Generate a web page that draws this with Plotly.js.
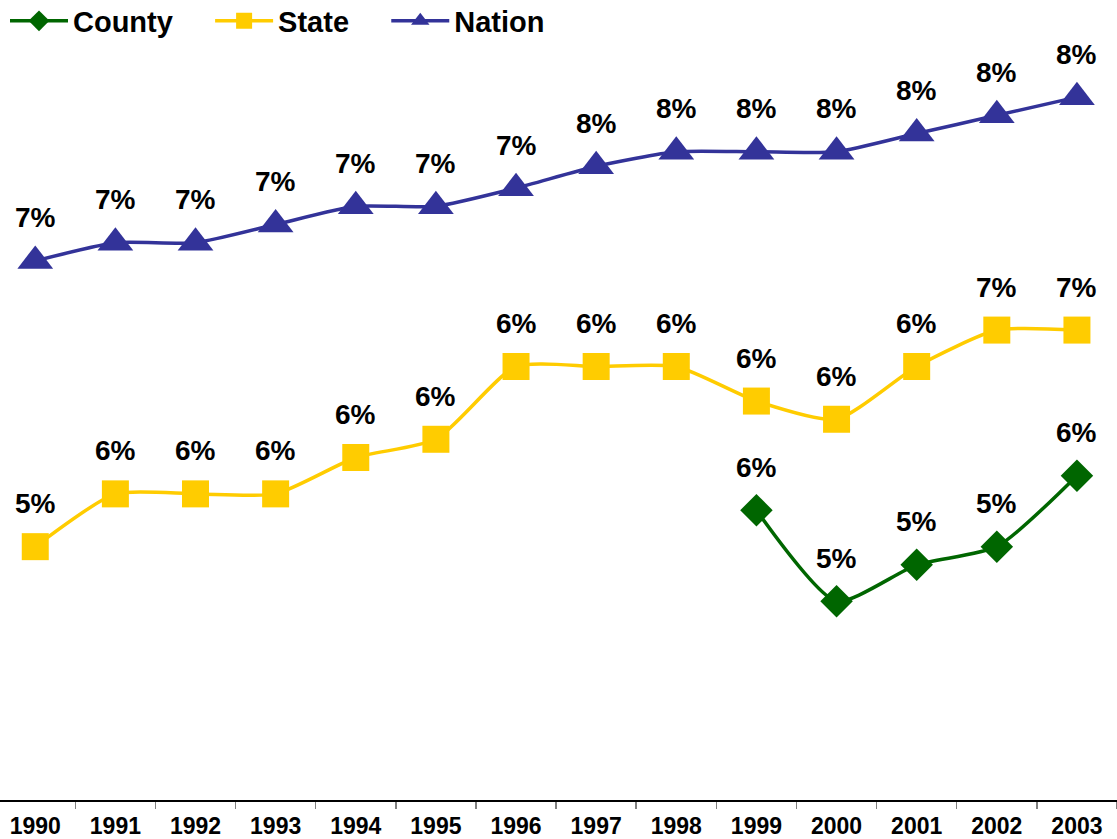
<!DOCTYPE html>
<html>
<head>
<meta charset="utf-8">
<script src="https://cdn.plot.ly/plotly-3.0.1.min.js"></script>
<style>html,body{margin:0;padding:0;background:#fff;}#chart{width:1117px;height:839px;}</style>
</head>
<body>
<div id="chart"></div>
<script>
var years = ['1990','1991','1992','1993','1994','1995','1996','1997','1998','1999','2000','2001','2002','2003'];
var county = [null,null,null,null,null,null,null,null,null,5.63,5.13,5.33,5.43,5.82];
var state = [5.43,5.72,5.72,5.72,5.92,6.02,6.42,6.42,6.42,6.23,6.13,6.42,6.62,6.62];
var nation = [7.0,7.1,7.1,7.2,7.3,7.3,7.4,7.52,7.6,7.6,7.6,7.7,7.8,7.9];
var seriesNames = ['County','State','Nation'];

var FONT = 'Arial, "Liberation Sans", sans-serif';
var PAD = '\u00A0\u00A0\u00A0\u00A0';

function mk(name, vals, color, symbol, size) {
  return {
    type: 'scatter', mode: 'lines+markers', name: name,
    x: years, y: vals,
    line: {color: color, width: 3.5, shape: 'spline', smoothing: 0.6},
    marker: {color: color, symbol: symbol, size: size},
    connectgaps: false,
    hoverinfo: 'skip'
  };
}
var traces = [
  mk(seriesNames[0] + PAD, county, '#006600', 'diamond', 25),
  mk(seriesNames[1] + PAD, state, '#FFCC00', 'square', 27),
  mk(seriesNames[2], nation, '#333399', 'triangle-up', 31)
];

var annotations = [];
[county, state, nation].forEach(function(series){
  series.forEach(function(v, i){
    if (v === null) return;
    annotations.push({
      x: i, y: v, xref: 'x', yref: 'y',
      text: Math.round(v) + '%', showarrow: false,
      yanchor: 'middle', yshift: 43,
      font: {family: FONT, size: 28, color: '#000', weight: 'bold'}
    });
  });
});

var layout = {
  width: 1117, height: 839,
  margin: {l: 0, r: 0, t: 60, b: 39},
  paper_bgcolor: '#fff', plot_bgcolor: '#fff',
  showlegend: true,
  legend: {
    orientation: 'h', x: 5/1117, xanchor: 'left', y: 1 - 21/839, yref: 'container', yanchor: 'middle',
    font: {family: FONT, size: 29, color: '#000', weight: 'bold'},
    itemwidth: 58, bgcolor: 'rgba(0,0,0,0)'
  },
  xaxis: {
    type: 'category', range: [-0.44, 13.5],
    showline: true, linecolor: '#000', linewidth: 1.5,
    ticks: 'outside', tickson: 'boundaries', ticklen: 7, tickcolor: '#808080', tickwidth: 1.5,
    ticklabelstandoff: 5,
    showgrid: false, zeroline: false,
    tickfont: {family: FONT, size: 23, color: '#000', weight: 'bold'}
  },
  yaxis: {
    range: [4.038, 8.104], visible: false, showgrid: false, zeroline: false
  },
  annotations: annotations
};

Plotly.newPlot('chart', traces, layout, {displayModeBar: false, staticPlot: true});
</script>
</body>
</html>
